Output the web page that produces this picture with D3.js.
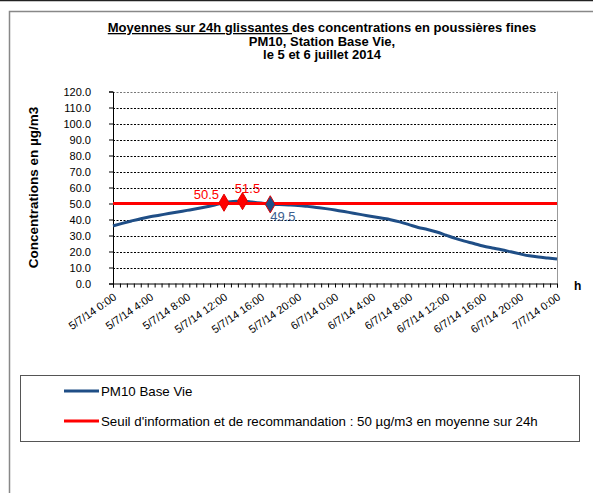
<!DOCTYPE html>
<html>
<head>
<meta charset="utf-8">
<script src="https://cdn.jsdelivr.net/npm/d3@7"></script>
<style>
  body { margin: 0; background: #fff; }
  text { font-family: Arial, "Liberation Sans", sans-serif; }
</style>
</head>
<body>
<svg width="593" height="493"></svg>
<script>
// hourly rolling 24h means, 5/7/14 0:00 -> 7/7/14 0:00
var hours = d3.range(0, 49);
var pm10 = [36.0, 37.6, 39.1, 40.5, 41.7, 42.7, 43.7, 44.7, 45.7, 46.7,
  47.8, 49.1, 50.5, 51.2, 51.5, 51.0, 50.3, 49.5, 49.3, 49.1,
  48.8, 48.2, 47.5, 46.8, 46.0, 45.0, 43.9, 42.9, 41.9, 40.9,
  39.9, 38.5, 36.8, 35.0, 33.8, 32.2, 30.2, 28.2, 26.5, 25.0,
  23.4, 22.2, 21.1, 19.8, 18.5, 17.3, 16.5, 15.9, 15.3];
var seuil = 50;
var tickHours = [0, 4, 8, 12, 16, 20, 24, 28, 32, 36, 40, 44, 48];
var tickLabels = ["5/7/14 0:00", "5/7/14 4:00", "5/7/14 8:00", "5/7/14 12:00",
  "5/7/14 16:00", "5/7/14 20:00", "6/7/14 0:00", "6/7/14 4:00", "6/7/14 8:00",
  "6/7/14 12:00", "6/7/14 16:00", "6/7/14 20:00", "7/7/14 0:00"];
var yTicks = d3.range(0, 121, 10);
// labelled points (hour index)
var marked = [12, 14, 17];

function main() {
  var svg = d3.select("svg");
  var pLeft = 113, pRight = 557, pTop = 91.5, pBottom = 283.5;

  var x = d3.scaleLinear().domain([0, 48]).range([pLeft, pRight]);
  var y = d3.scaleLinear().domain([0, 120]).range([pBottom, pTop]);

  // outer frame
  svg.append("line").attr("x1", 0).attr("x2", 593).attr("y1", 0.5).attr("y2", 0.5)
    .attr("stroke", "#222").attr("stroke-width", 1.5);
  svg.append("rect").attr("x", 9.5).attr("y", 11.5).attr("width", 620).attr("height", 520)
    .attr("fill", "none").attr("stroke", "#888").attr("stroke-width", 1.5);

  // title
  var title = svg.append("text").attr("text-anchor", "middle")
    .style("font-size", "13px").style("font-weight", "bold");
  var t1 = title.append("tspan").attr("x", 322).attr("y", 32);
  t1.append("tspan").style("text-decoration", "underline").text("Moyennes sur 24h glissantes ");
  t1.append("tspan").text("des concentrations en poussières fines");
  title.append("tspan").attr("x", 322).attr("y", 45.5).text("PM10, Station Base Vie,");
  title.append("tspan").attr("x", 322).attr("y", 59).text("le 5 et 6 juillet 2014");

  // grid
  svg.append("g").selectAll("line").data(yTicks.filter(function (d) { return d > 0; }))
    .enter().append("line")
    .attr("x1", pLeft).attr("x2", pRight)
    .attr("y1", function (d) { return Math.round(y(d)) + 0.5; })
    .attr("y2", function (d) { return Math.round(y(d)) + 0.5; })
    .attr("stroke", function (d) { return d === 120 ? "#777" : "#000"; })
    .attr("stroke-width", 1)
    .attr("stroke-dasharray", "2,1.5");
  // right border of plot
  svg.append("line").attr("x1", pRight + 0.5).attr("x2", pRight + 0.5)
    .attr("y1", pTop).attr("y2", pBottom).attr("stroke", "#999");

  // y axis
  var yAxis = svg.append("g").attr("transform", "translate(" + pLeft + ",0)")
    .call(d3.axisLeft(y).tickValues(yTicks).tickSize(4).tickFormat(d3.format(".1f")));
  yAxis.selectAll("text").style("font-size", "11px")
    .style("font-family", "Arial, 'Liberation Sans', sans-serif").attr("fill", "#000").attr("x", -22);
  yAxis.select(".domain").attr("stroke", "#000");

  svg.append("text")
    .attr("transform", "translate(38," + (pTop + pBottom) / 2 + ") rotate(-90)")
    .attr("text-anchor", "middle").style("font-size", "13.5px").style("font-weight", "bold")
    .text("Concentrations en µg/m3");

  // x axis
  var xAxis = svg.append("g").attr("transform", "translate(0," + pBottom + ")")
    .call(d3.axisBottom(x).tickValues(d3.range(0, 48.01, 0.75)).tickSize(4).tickFormat(""));
  xAxis.select(".domain").attr("stroke", "#000");
  svg.append("g").selectAll("text").data(tickHours).enter().append("text")
    .attr("transform", function (d) { return "translate(" + (x(d) + 2) + "," + (pBottom + 12) + ") rotate(-35)"; })
    .attr("text-anchor", "end").attr("dy", "0.35em")
    .style("font-size", "11px")
    .text(function (d, i) { return tickLabels[i]; });

  svg.append("text").attr("x", 574).attr("y", 290)
    .style("font-size", "12px").style("font-weight", "bold").text("h");

  // series
  var line = d3.line()
    .x(function (d, i) { return x(hours[i]); })
    .y(function (d) { return y(d); })
    .curve(d3.curveMonotoneX);
  svg.append("path").datum(pm10).attr("d", line)
    .attr("fill", "none").attr("stroke", "#1f4e86").attr("stroke-width", 3);

  svg.append("line").attr("x1", pLeft).attr("x2", pRight)
    .attr("y1", y(seuil)).attr("y2", y(seuil))
    .attr("stroke", "#ff0000").attr("stroke-width", 3);

  // markers
  var diamond = d3.symbol().type(d3.symbolDiamond).size(85);
  svg.append("g").selectAll("path").data(marked).enter().append("path")
    .attr("d", diamond)
    .attr("transform", function (d) { return "translate(" + x(d) + "," + y(pm10[d]) + ")"; })
    .attr("fill", function (d) { return pm10[d] >= seuil ? "#ff0000" : "#1f4e86"; })
    .attr("stroke", "#e00000").attr("stroke-width", 1);

  svg.append("text").attr("x", x(12) - 5).attr("y", y(pm10[12]) - 4)
    .attr("text-anchor", "end").attr("fill", "#ff0000").style("font-size", "13px")
    .text(pm10[12].toFixed(1));
  svg.append("text").attr("x", x(14) + 5).attr("y", y(pm10[14]) - 8)
    .attr("text-anchor", "middle").attr("fill", "#ff0000").style("font-size", "13px")
    .text(pm10[14].toFixed(1));
  svg.append("text").attr("x", x(17)).attr("y", y(pm10[17]) + 17)
    .attr("text-anchor", "start").attr("fill", "#3d5f8f").style("font-size", "13px")
    .text(pm10[17].toFixed(1));

  // legend
  var legend = svg.append("g");
  legend.append("rect").attr("x", 20.5).attr("y", 375.5).attr("width", 559).attr("height", 66)
    .attr("fill", "#fff").attr("stroke", "#555").attr("stroke-width", 1);
  var legendItems = [
    { name: "PM10 Base Vie", color: "#1f4e86", y: 391 },
    { name: "Seuil d'information et de recommandation : 50 µg/m3 en moyenne sur 24h", color: "#ff0000", y: 421 }
  ];
  legendItems.forEach(function (it) {
    legend.append("line").attr("x1", 64).attr("x2", 99).attr("y1", it.y).attr("y2", it.y)
      .attr("stroke", it.color).attr("stroke-width", 3);
    legend.append("text").attr("x", 101).attr("y", it.y).attr("dy", "0.35em")
      .style("font-size", "13.3px").text(it.name);
  });
}
main();
</script>
</body>
</html>
